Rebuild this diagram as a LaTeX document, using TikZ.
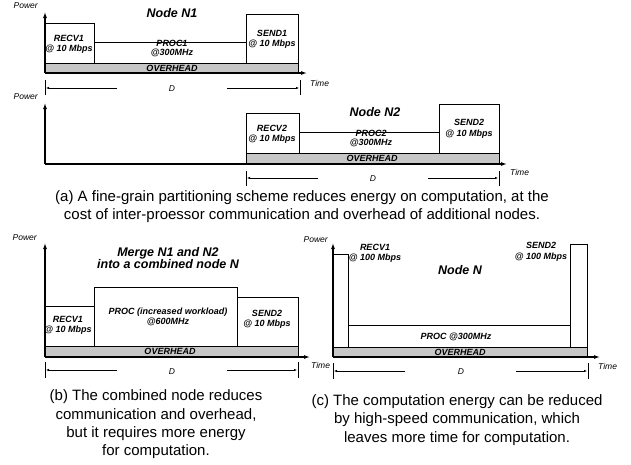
\documentclass[tikz,border=0pt]{standalone}
\usepackage{fontspec}
\setmainfont{Liberation Sans}
\usetikzlibrary{arrows.meta}

\tikzset{
  axis/.style={line width=1.1pt, -{Latex[length=6pt,width=4pt]}},
  slot/.style={draw, line width=0.9pt, fill=white},
  ovh/.style={draw, line width=0.9pt, fill=black!22},
  dim/.style={line width=0.6pt, -{Latex[length=3pt,width=2.5pt]}},
  tickmark/.style={line width=0.6pt},
  lbl/.style={font=\fontsize{9}{10.5}\selectfont\bfseries\itshape, inner sep=0pt, align=center},
  ttl/.style={font=\fontsize{12.5}{12}\selectfont\bfseries\itshape, inner sep=0pt, align=center},
  ax/.style={font=\fontsize{8.5}{9}\selectfont\itshape, inner sep=0pt},
  captext/.style={font=\fontsize{15}{18.3}\selectfont, inner sep=0pt, align=center},
}

\begin{document}
\begin{tikzpicture}[x=1pt, y=-1pt]
  \useasboundingbox (0,0) rectangle (631,464);

  % (a) top: node N1
  \draw[slot] (45,63) rectangle (94,23);
  \draw[slot] (94,63) rectangle (246,42);
  \draw[slot] (246,63) rectangle (298,14);
  \draw[ovh] (45,73) rectangle (298,63);
  \draw[axis] (45,73) -- (45,12);
  \draw[axis] (45,73) -- (307,73);
  \node[ax, anchor=east] (pwrA) at (38,6) {Power};
  \node[ax, anchor=west] (timeA) at (310,83) {Time};
  \node[ttl] (nodeA) at (172,13) {Node N1};
  \node[lbl] (recvA) at (69,44.5) {RECV1\\@ 10 Mbps};
  \node[lbl] (procA) at (172,48.5) {PROC1\\[-1.5pt]@300MHz};
  \node[lbl] (sendA) at (272,39.5) {SEND1\\@ 10 Mbps};
  \node[lbl] (ovhA) at (172,68) {OVERHEAD};
  \draw[tickmark] (45,80) -- (45,95);
  \draw[tickmark] (300,80) -- (300,95);
  \draw[dim] (117,88) -- (46,88);
  \draw[dim] (227,88) -- (299,88);
  \node[ax] (durA) at (172,88.5) {D};

  % (a) bottom: node N2
  \draw[slot] (246,153) rectangle (299,113);
  \draw[slot] (299,153) rectangle (439,132);
  \draw[slot] (439,153) rectangle (499,104);
  \draw[ovh] (246,164) rectangle (499,153);
  \draw[axis] (45,164) -- (45,103);
  \draw[axis] (45,164) -- (507,164);
  \node[ax, anchor=east] (pwrB) at (38,97) {Power};
  \node[ax, anchor=west] (timeB) at (510,172) {Time};
  \node[ttl] (nodeB) at (375,112) {Node N2};
  \node[lbl] (recvB) at (272,134.5) {RECV2\\@ 10 Mbps};
  \node[lbl] (procB) at (371,138.5) {PROC2\\[-1.5pt]@300MHz};
  \node[lbl] (sendB) at (469,129) {SEND2\\@ 10 Mbps};
  \node[lbl] (ovhB) at (372,158.5) {OVERHEAD};
  \draw[tickmark] (246,171) -- (246,186);
  \draw[tickmark] (499,171) -- (499,186);
  \draw[dim] (318,178) -- (247,178);
  \draw[dim] (428,178) -- (498,178);
  \node[ax] (durB) at (373,179) {D};

  \node[captext] (capA) at (302,206.5) {(a) A fine-grain partitioning scheme reduces energy on computation, at the\\cost of inter-proessor communication and overhead of additional nodes.};

  % (b) merged node
  \draw[slot] (45,346) rectangle (94,306);
  \draw[slot] (94,346) rectangle (237,287);
  \draw[slot] (237,346) rectangle (298,297);
  \draw[ovh] (45,357) rectangle (298,346);
  \draw[axis] (45,357) -- (45,243);
  \draw[axis] (45,357) -- (310,357);
  \node[ax, anchor=east] (pwrC) at (37,238) {Power};
  \node[ax, anchor=west] (timeC) at (311,365) {Time};
  \node[ttl] (nodeC) at (168,258) {Merge N1 and N2\\into a combined node N};
  \node[lbl] (recvC) at (68,325.5) {RECV1\\@ 10 Mbps};
  \node[lbl] (procC) at (168,317) {PROC (increased workload)\\[-0.5pt]@600MHz};
  \node[lbl] (sendC) at (267,319) {SEND2\\[-0.5pt]@ 10 Mbps};
  \node[lbl] (ovhC) at (170,351.5) {OVERHEAD};
  \draw[tickmark] (45,362) -- (45,378);
  \draw[tickmark] (298,362) -- (298,378);
  \draw[dim] (117,370) -- (46,370);
  \draw[dim] (227,370) -- (297,370);
  \node[ax] (durC) at (172,372) {D};

  \node[captext] (capB) at (156,424.5) {(b) The combined node reduces\\communication and overhead,\\but it requires more energy\\for computation.};

  % (c) fast links
  \draw[slot] (333,347) rectangle (348,254);
  \draw[slot] (348,347) rectangle (570,325);
  \draw[slot] (570,347) rectangle (587,244);
  \draw[ovh] (333,357) rectangle (587,347);
  \draw[axis] (333,357) -- (333,243);
  \draw[axis] (333,357) -- (600,357);
  \node[ax, anchor=east] (pwrD) at (328,240) {Power};
  \node[ax, anchor=west] (timeD) at (598,366) {Time};
  \node[ttl] (nodeD) at (460,270) {Node N};
  \node[lbl] (recvD) at (375,253.5) {RECV1\\@ 100 Mbps};
  \node[lbl] (sendD) at (541,252) {SEND2\\@ 100 Mbps};
  \node[lbl] (procD) at (456,337) {PROC @300MHz};
  \node[lbl] (ovhD) at (460,352) {OVERHEAD};
  \draw[tickmark] (333,363) -- (333,379);
  \draw[tickmark] (588,363) -- (588,379);
  \draw[dim] (405,371) -- (334,371);
  \draw[dim] (516,371) -- (587,371);
  \node[ax] (durD) at (461,372) {D};

  \node[captext] (capC) at (457,420) {(c) The computation energy can be reduced\\by high-speed communication, which\\leaves more time for computation.};
\end{tikzpicture}
\end{document}
